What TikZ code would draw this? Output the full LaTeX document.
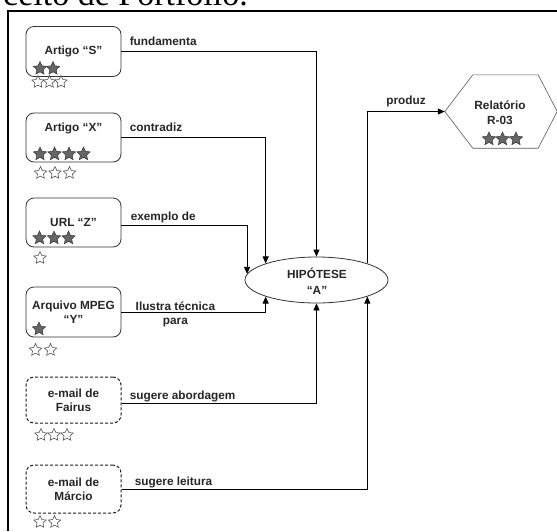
\documentclass[tikz,border=0pt]{standalone}
\usepackage{fontspec}
\setmainfont{Liberation Sans}
\newfontfamily\titlefont{Liberation Serif}
\usetikzlibrary{shapes.geometric,arrows.meta,calc}
\tikzset{
  txt/.style={font=\bfseries\fontsize{11.8}{14}\selectfont, inner sep=0pt, text=black!85},
  doc/.style={txt, draw=black!80, rounded corners=8pt, minimum width=95pt, line width=0.8pt, align=center},
  mail/.style={doc, draw=black!90, line width=1pt, dash pattern=on 3pt off 2pt},
  fstar/.style={star, star points=5, star point ratio=2.1, minimum size=14pt, inner sep=0pt, fill=black!60, draw=black!80, line width=0.5pt},
  ostar/.style={star, star points=5, star point ratio=2.1, minimum size=13pt, inner sep=0pt, fill=white, draw=black!75, line width=0.5pt},
  conn/.style={draw=black, line width=0.8pt, -{Triangle[length=7pt,width=6pt]}},
  lbl/.style={txt, anchor=base west},
}
\begin{document}
\begin{tikzpicture}[x=1pt,y=-1pt]
\useasboundingbox (0,0) rectangle (557,531);
% title fragment and frame
\node[inner sep=0pt, anchor=base east, font=\titlefont\fontsize{34}{40}\selectfont] (title) at (248,5) {ceito de Portfólio.};
\draw[line width=2pt] (8,531) -- (8,11) -- (557,11);

% source boxes
\node[doc, minimum height=50pt] (s) at (73.5,51.5) {Artigo “S”};
\node[doc, minimum height=49pt] (x) at (73.5,137.5) {Artigo “X”\\[6pt]};
\node[doc, minimum height=49pt] (z) at (73.5,222.5) {URL “Z”};
\node[doc, minimum height=50pt] (m) at (73.5,312) {Arquivo MPEG\\“Y”};
\node[mail, minimum height=46pt] (f) at (73.5,400) {e-mail de\\Fairus};
\node[mail, minimum height=48pt] (mc) at (73.5,489) {e-mail de\\Márcio};

% stars
\foreach \i/\px/\py in {1/40/68.5,2/53/68.5,3/40/154,4/54.5/154,5/69/154,6/83.5/154,7/39.5/238,8/54/238,9/68.5/238,10/39/329,11/489/139,12/502.5/139,13/516/139}
  \node[fstar] (fs\i) at (\px,\py) {};
\foreach \i/\px/\py in {1/38/82,2/49.5/82,3/61/82,4/40.5/173,5/55/173,6/69.5/173,7/40/258,8/35.5/350,9/50.5/350,10/41/435,11/54/435,12/67/435,13/40/522,14/54.5/522}
  \node[ostar] (os\i) at (\px,\py) {};

% hypothesis
\node[ellipse, draw=black!80, line width=0.8pt, minimum width=143pt, minimum height=46pt, inner sep=0pt] (h) at (316.5,280) {};
\node[txt, align=center, font=\bfseries\fontsize{11.8}{16}\selectfont] (ht) at (317,281) {HIPÓTESE\\“A”};

% report hexagon
\node[minimum width=112pt, minimum height=73pt, inner sep=0pt] (r) at (501,111.5) {};
\draw[black!65, line width=0.6pt] (r.west) -- ([xshift=28pt]r.north west) -- ([xshift=-19pt]r.north east) -- (r.east) -- ([xshift=-19pt]r.south east) -- ([xshift=28pt]r.south west) -- cycle;
\node[txt, align=center, font=\bfseries\fontsize{11.8}{15}\selectfont] (rt) at (500,112.5) {Relatório\\R-03};

% connectors
\draw[conn] (s.east) -| node[lbl, pos=0, xshift=8pt, yshift=6.5pt] {fundamenta} (h.north);
\draw[conn] (x.east) -| node[lbl, pos=0, xshift=8pt, yshift=6pt] {contradiz} (h.north west);
\draw[conn] ([yshift=-2.5pt]z.east) -| node[lbl, pos=0, xshift=9pt, yshift=4.5pt] {exemplo de} (h.175);
\draw[conn] (m.east) -| node[txt, align=center, pos=0, anchor=base, xshift=54pt, yshift=-12pt] {Ilustra técnica\\para} (h.south west);
\draw[conn] ([yshift=-3pt]f.east) -| node[lbl, pos=0, xshift=8pt, yshift=3.5pt] {sugere abordagem} (h.south);
\draw[conn] (mc.east) -| node[lbl, pos=0, xshift=13pt, yshift=3.5pt] {sugere leitura} (h.south east);
\draw[conn] (h.north east) |- node[txt, pos=0.75, anchor=base, yshift=7pt] {produz} (r.west);
\end{tikzpicture}
\end{document}
